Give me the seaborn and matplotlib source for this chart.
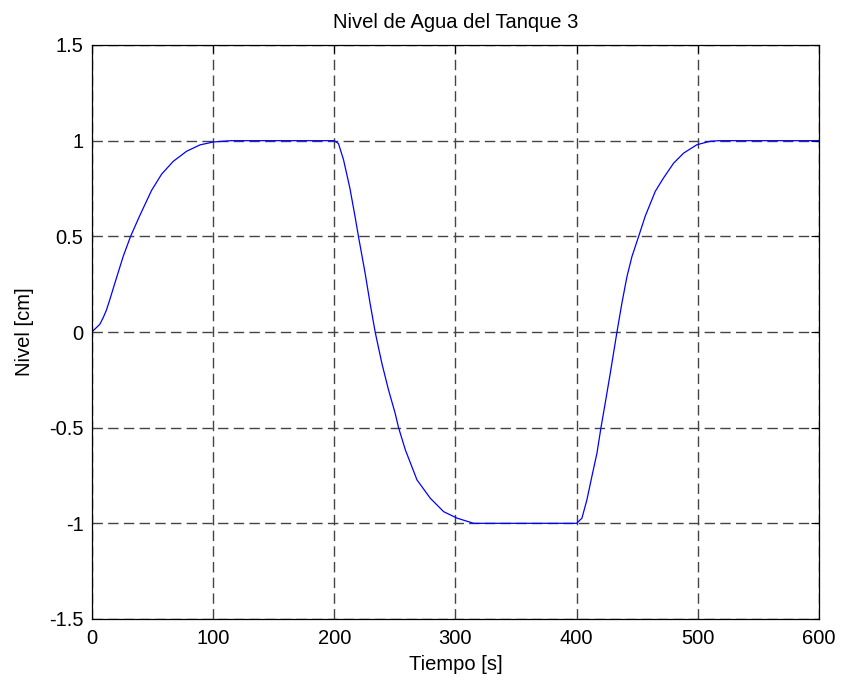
import matplotlib
matplotlib.use("Agg")
import matplotlib.pyplot as plt
import seaborn as sns
import pandas as pd

# Data
time_s = [0, 6.6, 9.4, 12.1, 14.9, 19, 25.9, 32, 39.7, 49.3, 57.6, 67.2, 78.3,
          89.3, 100.2, 115, 200, 203.5, 207.7, 213, 217.3, 220, 225.5, 229.6,
          233.8, 239.3, 244.7, 250.3, 253.1, 258.7, 268.3, 279.3, 290.3, 301.4,
          315.1, 400, 404.4, 408.5, 412.6, 416.8, 420.1, 423.6, 427.8, 433.3,
          437.4, 441.6, 445.7, 451.2, 456.6, 464.9, 471.7, 480, 488.3, 499.3,
          510.4, 518, 600]
level_cm = [0, 0.04, 0.075, 0.115, 0.17, 0.255, 0.395, 0.5, 0.61, 0.74, 0.825,
            0.892, 0.945, 0.978, 0.993, 1.0, 1.0, 0.985, 0.90, 0.75, 0.60, 0.50,
            0.308, 0.15, 0.0, -0.163, -0.30, -0.425, -0.5, -0.616, -0.773,
            -0.869, -0.939, -0.973, -1.0, -1.0, -0.973, -0.877, -0.755, -0.633,
            -0.5, -0.372, -0.215, 0.0, 0.152, 0.291, 0.395, 0.5, 0.605, 0.735,
            0.805, 0.882, 0.935, 0.979, 0.997, 1.0, 1.0]
x_ticks = [0, 100, 200, 300, 400, 500, 600]
y_ticks = [-1.5, -1, -0.5, 0, 0.5, 1, 1.5]
y_tick_labels = ["-1.5", "-1", "-0.5", "0", "0.5", "1", "1.5"]

title_text = "Nivel de Agua del Tanque 3"
x_label = "Tiempo [s]"
y_label = "Nivel [cm]"

sns.set_style("white")
plt.rcParams["font.family"] = ["Liberation Sans", "DejaVu Sans"]
plt.rcParams["lines.scale_dashes"] = False
plt.rcParams["text.color"] = "black"
plt.rcParams["axes.labelcolor"] = "black"
plt.rcParams["axes.titlecolor"] = "black"

df = pd.DataFrame({"t": time_s, "nivel": level_cm})

fig = plt.figure(figsize=(8.46, 6.8), dpi=100)
ax = fig.add_axes([91.8 / 846, 1 - 619 / 680, (819 - 91.8) / 846, (619 - 45) / 680])

sns.lineplot(data=df, x="t", y="nivel", ax=ax, color="#0000ff", linewidth=0.9,
             estimator=None, sort=False)

ax.set_xlim(0, 600)
ax.set_ylim(-1.5, 1.5)
ax.set_xticks(x_ticks)
ax.set_xticklabels([str(v) for v in x_ticks])
ax.set_yticks(y_ticks)
ax.set_yticklabels(y_tick_labels)

ax.grid(True, linestyle=(0, (7.5, 3.8)), linewidth=1.0, color="#444444")
ax.set_axisbelow(True)

for s in ax.spines.values():
    s.set_visible(True)
    s.set_color("black")
    s.set_linewidth(0.9)

ax.tick_params(direction="in", length=5.5, width=0.8, top=True, right=True,
               labelsize=14.5, colors="black", pad=7)
ax.tick_params(axis="y", pad=6)

ax.set_title(title_text, fontsize=14.5, pad=12, color="black")
ax.set_xlabel(x_label, fontsize=14.5, color="black")
ax.set_ylabel(y_label, fontsize=14.5, color="black")
ax.xaxis.set_label_coords(0.5, -0.062)
ax.yaxis.set_label_coords(-0.08, 0.5)

fig.savefig("out.png", dpi=100, facecolor="white")
